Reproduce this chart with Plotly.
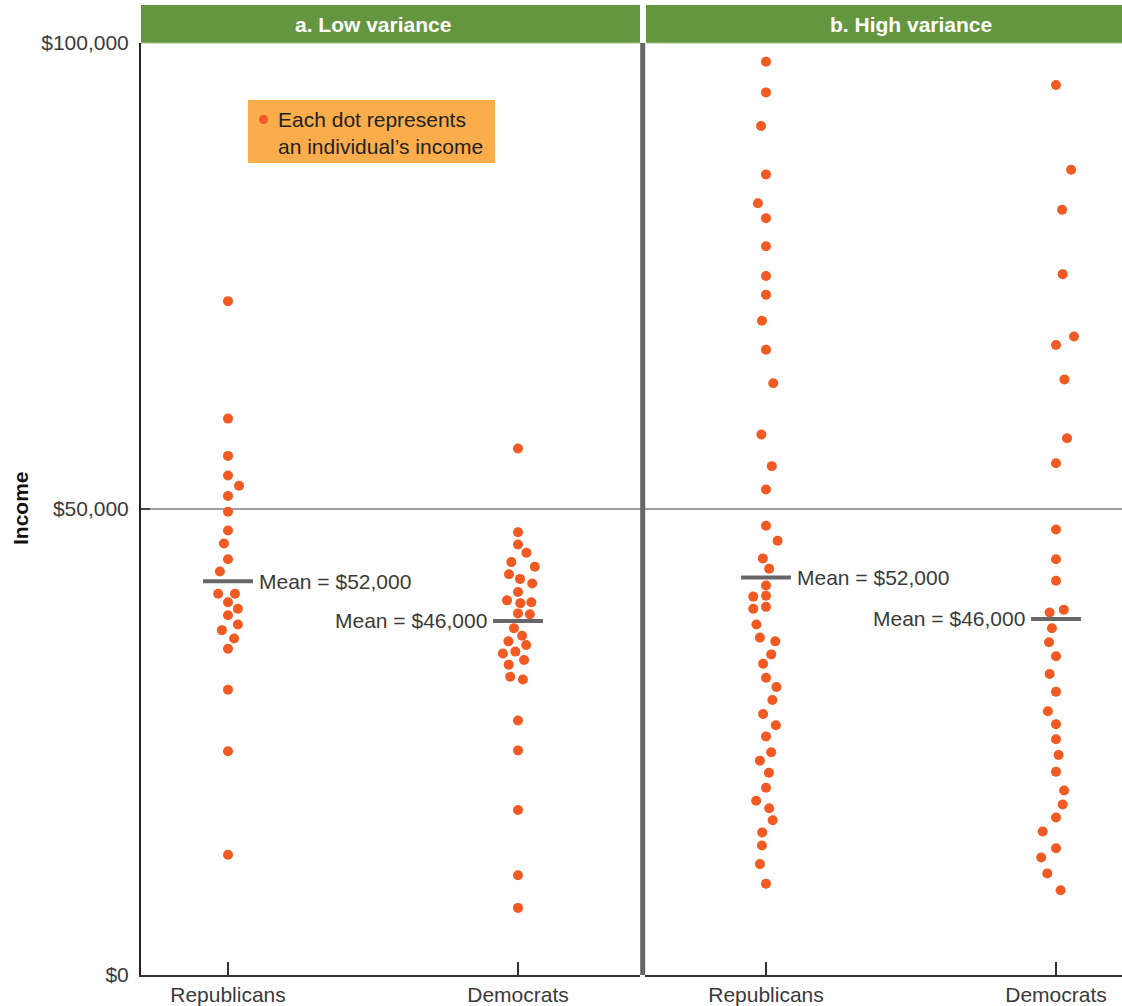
import plotly.graph_objects as go

# ---------------- data ----------------
categories = ["Republicans", "Democrats"]
panel_titles = ["a. Low variance", "b. High variance"]
ytick_vals = [0, 50000, 100000]
ytick_text = ["$0", "$50,000", "$100,000"]
mean_labels = ["Mean = $52,000", "Mean = $46,000"]
legend_text = "Each dot represents<br>an individual\u2019s income"
axis_title = "Income"

# Panel a (low variance)
low_rep_income = [72300, 59700, 55700, 53600, 52500, 51400, 49700, 47700, 46300, 44600,
                  43300, 40900, 40900, 40000, 39300, 38600, 37600, 37000, 36100, 35000,
                  30600, 24000, 12900]
low_rep_jitter = [0, 0, 0, 0, 0.038, 0, 0, 0, -0.014, 0,
                  -0.028, -0.034, 0.024, 0, 0.034, 0, 0.034, -0.021, 0.021, 0,
                  0, 0, 0]
low_dem_income = [56500, 47500, 46200, 45300, 44300, 43800, 43000, 42500, 42000, 41100,
                  40200, 39900, 40000, 38800, 38700, 37200, 36400, 35800, 35400, 34500,
                  34700, 33800, 33300, 32000, 31700, 27300, 24100, 17700, 10700, 7200]
low_dem_jitter = [0, 0, 0, 0.029, -0.023, 0.058, -0.031, 0.007, 0.049, 0,
                  -0.038, 0.008, 0.046, 0, 0.041, -0.014, 0.014, -0.033, 0.028, -0.052,
                  -0.009, 0.021, -0.032, -0.027, 0.017, 0, 0, 0, 0, 0]
low_mean_line = [42250, 37990]

# Panel b (high variance)
high_rep_income = [98000, 94700, 91100, 85900, 82800, 81200, 78200, 75000, 73000, 70200,
                   67100, 63500, 58000, 54600, 52100, 48200, 46600, 44700, 43600, 41800,
                   40600, 40700, 39300, 39500, 37600, 36200, 35800, 34400, 33400, 31900,
                   30900, 29500, 28000, 26800, 25600, 23900, 23000, 21700, 20100, 18700,
                   17900, 16600, 15300, 13900, 11900, 9800]
high_rep_jitter = [0, 0, -0.017, 0, -0.028, 0, 0, 0, 0, -0.014,
                   0, 0.025, -0.016, 0.020, 0, 0, 0.040, -0.011, 0.011, 0,
                   -0.044, 0, -0.044, 0, -0.033, -0.021, 0.032, 0.018, -0.010, 0,
                   0.036, 0.022, -0.010, 0.034, 0, 0.018, -0.021, 0.010, 0, -0.034,
                   0.011, 0.023, -0.013, -0.014, -0.021, 0]
high_dem_income = [95500, 86400, 82100, 75200, 68500, 67600, 63900, 57600, 54900, 47800,
                   44600, 42300, 38900, 39200, 37200, 35700, 34200, 32300, 30400, 28300,
                   26900, 25300, 23600, 21800, 19800, 18300, 16900, 15400, 13600, 12600,
                   10900, 9100]
high_dem_jitter = [0, 0.052, 0.021, 0.023, 0.062, 0, 0.029, 0.038, 0, 0,
                   0, 0, -0.022, 0.027, -0.014, -0.024, 0, -0.022, 0, -0.028,
                   0, 0, 0.009, 0, 0.028, 0.023, 0, -0.046, 0, -0.051,
                   -0.030, 0.016]
high_mean_line = [42640, 38210]

# ---------------- styling ----------------
DOT = "#F15A22"
GREEN = "#64963F"
FONT = "Liberation Sans, Arial, Helvetica, sans-serif"
TXT = "#3a3a3a"
W, H = 1122, 1006
ML, MR, MT, MB = 141, 0, 43, 31
PW = W - ML - MR
PH = H - MT - MB


def px(xp):
    return (xp - ML) / PW


def py(yp):
    return (H - MB - yp) / PH


fig = go.Figure()

panels = [
    ("x", [low_rep_income, low_dem_income], [low_rep_jitter, low_dem_jitter], low_mean_line),
    ("x2", [high_rep_income, high_dem_income], [high_rep_jitter, high_dem_jitter], high_mean_line),
]

half = 0.086
annotations = []
for xa, incomes, jitters, means in panels:
    for ci, (inc, jit) in enumerate(zip(incomes, jitters)):
        fig.add_trace(go.Scatter(
            x=[ci + j for j in jit], y=inc, mode="markers", xaxis=xa, yaxis="y",
            marker=dict(size=10, color=DOT, line=dict(width=0)),
            showlegend=False, hoverinfo="y"))
        fig.add_trace(go.Scatter(
            x=[ci - half, ci + half], y=[means[ci], means[ci]], mode="lines",
            xaxis=xa, yaxis="y", line=dict(color="#666666", width=4),
            showlegend=False, hoverinfo="skip"))
        annotations.append(dict(
            x=ci, y=means[ci], xref=xa, yref="y", text=mean_labels[ci], showarrow=False,
            xanchor="left" if ci == 0 else "right", yanchor="middle",
            xshift=29 if ci == 0 else -29,
            font=dict(family=FONT, size=21, color=TXT)))

# header titles (centred between categories)
for xa, title in zip(["x", "x2"], panel_titles):
    annotations.append(dict(
        x=0.5, y=py(25), xref=xa, yref="paper", text="<b>" + title + "</b>",
        showarrow=False, xanchor="center", yanchor="middle",
        font=dict(family=FONT, size=21, color="white")))

# legend box text
annotations.append(dict(
    x=px(276), y=py(132.5), xref="paper", yref="paper", text=legend_text,
    showarrow=False, xanchor="left", yanchor="middle", align="left",
    font=dict(family=FONT, size=21, color="#222222")))

# y axis title
annotations.append(dict(
    x=px(20), y=py(508), xref="paper", yref="paper", text="<b>" + axis_title + "</b>",
    showarrow=False, textangle=-90, xanchor="center", yanchor="middle",
    font=dict(family=FONT, size=21, color="#111111")))

shapes = [
    # 50k gridline
    dict(type="line", xref="paper", yref="y", x0=0, x1=1, y0=50000, y1=50000,
         line=dict(color="#7f7f7f", width=1.5), layer="below"),
    # panel divider
    dict(type="line", xref="paper", yref="paper", x0=px(642.7), x1=px(642.7), y0=0, y1=1,
         line=dict(color="#666666", width=5)),
    # header bars
    dict(type="rect", xref="paper", yref="paper", x0=0, x1=px(640), y0=1, y1=py(5),
         fillcolor=GREEN, line=dict(width=0)),
    dict(type="rect", xref="paper", yref="paper", x0=px(646), x1=1, y0=1, y1=py(5),
         fillcolor=GREEN, line=dict(width=0)),
    dict(type="line", xref="paper", yref="paper", x0=0, x1=px(640), y0=py(43), y1=py(43),
         line=dict(color="#9CC487", width=1)),
    dict(type="line", xref="paper", yref="paper", x0=px(646), x1=1, y0=py(43), y1=py(43),
         line=dict(color="#9CC487", width=1)),
    # legend box
    dict(type="rect", xref="paper", yref="paper", x0=px(248), x1=px(495), y0=py(163), y1=py(100),
         fillcolor="#FBAD4B", line=dict(width=0)),
    dict(type="circle", xref="paper", yref="paper", x0=px(259), x1=px(268), y0=py(124), y1=py(115),
         fillcolor=DOT, line=dict(width=0)),
]

xaxis_common = dict(
    tickvals=[0, 1], ticktext=categories, ticks="inside", ticklen=13, tickwidth=1.5,
    tickcolor="#333333", showline=True, linecolor="#333333", linewidth=2,
    showgrid=False, zeroline=False, fixedrange=True,
    tickfont=dict(family=FONT, size=21, color=TXT), anchor="y")

fig.update_layout(
    width=W, height=H,
    margin=dict(l=ML, r=MR, t=MT, b=MB, pad=0),
    paper_bgcolor="white", plot_bgcolor="white",
    xaxis=dict(domain=[0, px(640)], range=[(141 - 228) / 290, (640 - 228) / 290], **xaxis_common),
    xaxis2=dict(domain=[px(645), 1], range=[(645 - 766) / 290, (1122 - 766) / 290], **xaxis_common),
    yaxis=dict(range=[0, 100000], tickvals=ytick_vals, ticktext=ytick_text,
               ticks="inside", ticklen=9, tickwidth=1.5, tickcolor="#444444",
               showline=True, linecolor="#222222", linewidth=2, showgrid=False,
               zeroline=False, anchor="x", ticklabelstandoff=6, fixedrange=True,
               tickfont=dict(family=FONT, size=21, color=TXT)),
    shapes=shapes, annotations=annotations, showlegend=False,
)

fig.write_html(
    "out.html",
    config={"displayModeBar": False},
    post_script="document.body.style.margin='0';document.body.style.overflow='hidden';",
)
